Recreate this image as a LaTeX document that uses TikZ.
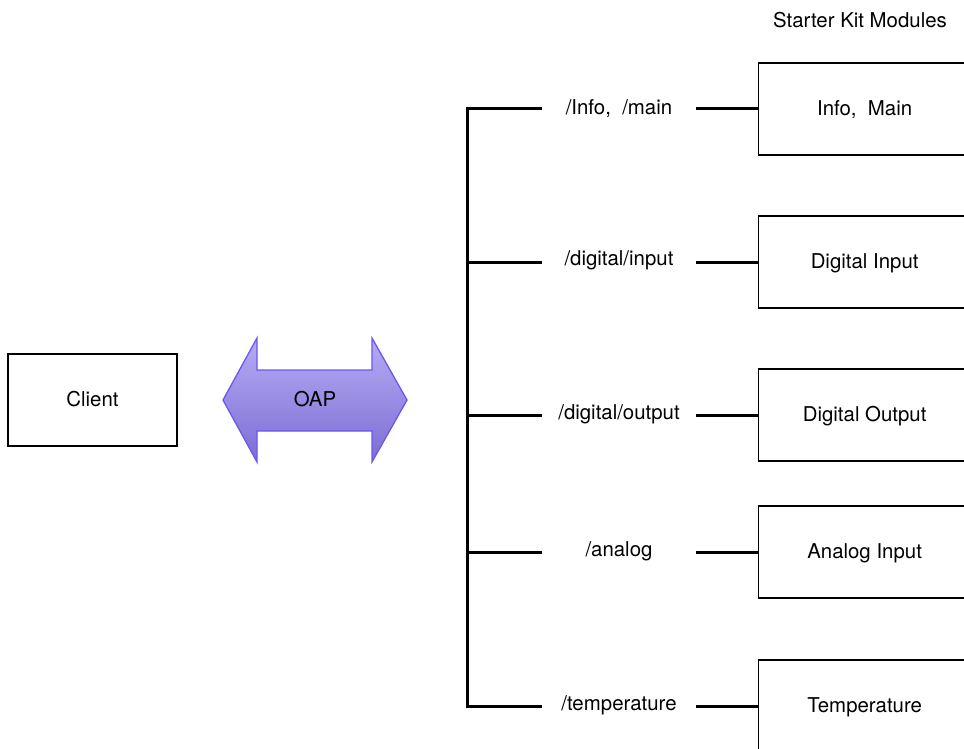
\documentclass[tikz,border=0pt]{standalone}
\usepackage{fontspec}
\setmainfont{TeX Gyre Heros}
\definecolor{arrtop}{HTML}{B5ABF4}
\definecolor{arrbot}{HTML}{7C6DD3}
\definecolor{arrline}{HTML}{6A58EE}
\tikzset{
  txt/.style={font=\fontsize{20.4}{24}\selectfont, inner sep=0pt},
  box/.style={txt, draw=black, line width=1.3pt, minimum width=212pt, minimum height=92pt, text height=12pt, text depth=0pt},
  lbl/.style={txt, minimum width=154pt, text height=14pt, text depth=6pt},
  bus/.style={line width=3pt, line join=miter}
}
\begin{document}
\begin{tikzpicture}[x=1pt,y=-1pt]
\useasboundingbox (0,0) rectangle (964,748);
\clip (0,0) rectangle (964,748);
\fill[white] (0,0) rectangle (964,748);

% client
\node[box, minimum width=169pt] (client) at (92.5,400) {Client};

% OAP double arrow
\shade[top color=arrtop, bottom color=arrbot, draw=arrline, line width=1.3pt, line join=miter]
  (223,400) -- (257,338) -- (257,370) -- (372,370) -- (372,338) -- (407,400)
  -- (372,462) -- (372,431) -- (257,431) -- (257,462) -- cycle;
\node[txt, text height=12pt, text depth=0pt] (oap) at (315,400) {OAP};

% heading
\node[txt, anchor=base] (head) at (860,27) {Starter Kit Modules};

% labels
\node[lbl, text height=16pt, text depth=4pt] (l1) at (619,108) {/Info,\ \ /main};
\node[lbl, text height=13pt, text depth=7pt] (l2) at (619,262) {/digital/input};
\node[lbl] (l3) at (619,415) {/digital/output};
\node[lbl] (l4) at (619,552) {/analog};
\node[lbl] (l5) at (619,706) {/temperature};

% module boxes
\node[box, anchor=west] (m1) at (758,109) {Info,\ \ Main};
\node[box, anchor=west] (m2) at (758,262) {Digital Input};
\node[box, anchor=west] (m3) at (758,415) {Digital Output};
\node[box, anchor=west] (m4) at (758,552) {Analog Input};
\node[box, anchor=west] (m5) at (758,706) {Temperature};

% bus coordinates
\coordinate (b1) at (467,108);
\coordinate (b2) at (467,262);
\coordinate (b3) at (467,415);
\coordinate (b4) at (467,552);
\coordinate (b5) at (467,706);

\draw[bus] (l1.west) -- (b1) -- (b5) -- (l5.west);
\draw[bus] (b2) -- (l2.west);
\draw[bus] (b3) -- (l3.west);
\draw[bus] (b4) -- (l4.west);

\draw[bus] (l1.east) -- (l1.east -| m1.west);
\draw[bus] (l2.east) -- (m2.west);
\draw[bus] (l3.east) -- (m3.west);
\draw[bus] (l4.east) -- (m4.west);
\draw[bus] (l5.east) -- (m5.west);
\end{tikzpicture}
\end{document}
